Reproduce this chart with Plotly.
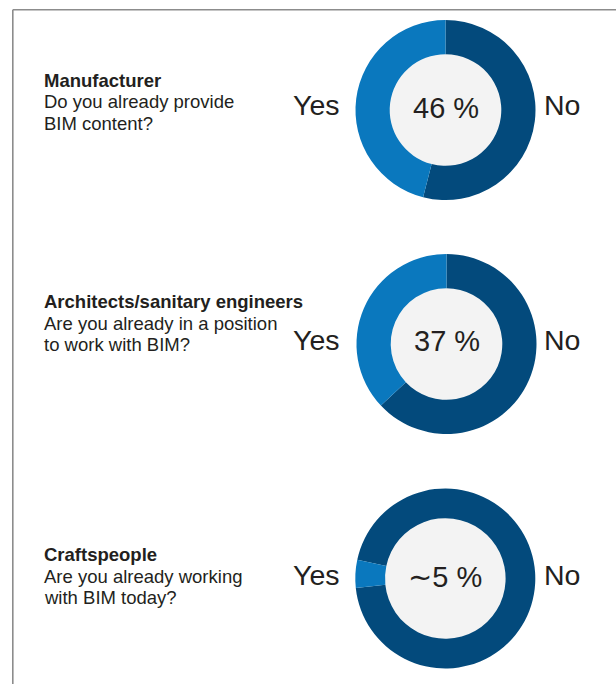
import plotly.graph_objects as go

# --- survey data -----------------------------------------------------------
groups = ["Manufacturer", "Architects/sanitary engineers", "Craftspeople"]
questions = [
    ["Do you already provide", "BIM content?"],
    ["Are you already in a position", "to work with BIM?"],
    ["Are you already working", "with BIM today?"],
]
yes_share = [46, 37, 5]                      # percent answering "Yes"
share_labels = ["46 %", "37 %", "\u223c5 %"]
answer_labels = ["No", "Yes"]

# --- layout constants (pixels) --------------------------------------------
W, H = 616, 684
donut_cx = [445.5, 446.5, 445.3]
donut_cy = [110.0, 344.0, 578.5]
donut_r = 90.0
holes = [0.62, 0.62, 0.67]
rotations = [0, 0, -78]
text_left = 42.0
line_baselines = [
    [87.0, 108.5, 130.0],
    [308.5, 330.0, 351.5],
    [561.5, 583.0, 604.5],
]
answer_cy = [105.0, 340.0, 575.0]
share_cy = [107.5, 341.0, 577.0]
yes_right = 342.0
no_left = 541.5

COL_YES = "#0a78be"
COL_NO = "#034a7c"
COL_CENTER = "#f3f3f3"
COL_TEXT = "#231f20"
COL_FRAME = "#8c8c8c"
FONT = "Liberation Sans, Arial, Helvetica, DejaVu Sans, sans-serif"


def px(x):
    return x / W


def py(y):
    return 1 - y / H


fig = go.Figure()
shapes = []
annotations = []

for i, share in enumerate(yes_share):
    cx, cy = donut_cx[i], donut_cy[i]
    fig.add_trace(go.Pie(
        labels=answer_labels,
        values=[100 - share, share],
        sort=False,
        direction="clockwise",
        rotation=rotations[i],
        hole=holes[i],
        marker=dict(colors=[COL_NO, COL_YES], line=dict(width=0)),
        textinfo="none",
        hoverinfo="skip",
        showlegend=False,
        domain=dict(x=[px(cx - donut_r), px(cx + donut_r)],
                    y=[py(cy + donut_r), py(cy - donut_r)]),
    ))

    # light grey disc filling the donut hole
    rin = donut_r * holes[i] + 1
    shapes.append(dict(
        type="circle", xref="paper", yref="paper", layer="below",
        x0=px(cx - rin), x1=px(cx + rin), y0=py(cy + rin), y1=py(cy - rin),
        fillcolor=COL_CENTER, line=dict(width=0),
    ))

    # share in the centre
    annotations.append(dict(
        text=share_labels[i], x=px(cx), y=py(share_cy[i]),
        xref="paper", yref="paper", xanchor="center", yanchor="middle",
        showarrow=False, font=dict(family=FONT, size=29, color=COL_TEXT),
    ))
    # Yes / No labels beside the ring
    annotations.append(dict(
        text=answer_labels[1], x=px(yes_right), y=py(answer_cy[i]),
        xref="paper", yref="paper", xanchor="right", yanchor="middle",
        showarrow=False, font=dict(family=FONT, size=28.5, color=COL_TEXT),
    ))
    annotations.append(dict(
        text=answer_labels[0], x=px(no_left), y=py(answer_cy[i]),
        xref="paper", yref="paper", xanchor="left", yanchor="middle",
        showarrow=False, font=dict(family=FONT, size=28.5, color=COL_TEXT),
    ))

    # group name (bold) and question text
    lines = ["<b>" + groups[i] + "</b>"] + questions[i]
    for line, base in zip(lines, line_baselines[i]):
        annotations.append(dict(
            text=line, x=px(text_left), y=py(base - 6.7),
            xref="paper", yref="paper", xanchor="left", yanchor="middle",
            showarrow=False, font=dict(family=FONT, size=18.5, color=COL_TEXT),
        ))

# thin grey frame on the top and left
shapes.append(dict(type="line", xref="paper", yref="paper",
                   x0=px(12.8), x1=1.0, y0=py(9.8), y1=py(9.8),
                   line=dict(color=COL_FRAME, width=1.6)))
shapes.append(dict(type="line", xref="paper", yref="paper",
                   x0=px(12.8), x1=px(12.8), y0=py(9.8), y1=0.0,
                   line=dict(color=COL_FRAME, width=1.6)))

fig.update_layout(
    width=W, height=H,
    margin=dict(l=0, r=0, t=0, b=0),
    paper_bgcolor="white", plot_bgcolor="white",
    shapes=shapes, annotations=annotations,
    showlegend=False,
)

fig.write_html("out.html", config={"displayModeBar": False})
